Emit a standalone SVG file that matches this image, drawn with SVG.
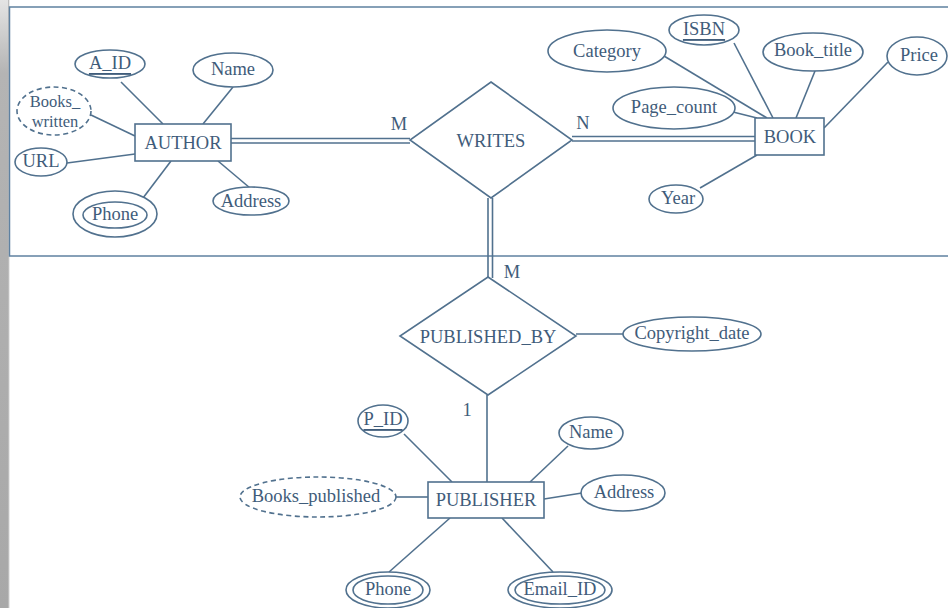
<svg xmlns="http://www.w3.org/2000/svg" width="948" height="608" viewBox="0 0 948 608">
<defs>
<linearGradient id="band" x1="0" y1="0" x2="0" y2="1">
<stop offset="0" stop-color="#e4e4e4"/>
<stop offset="0.12" stop-color="#b4b4b4"/>
<stop offset="1" stop-color="#a8a8a8"/>
</linearGradient>
<linearGradient id="bandEdge" x1="0" y1="0" x2="1" y2="0">
<stop offset="0" stop-color="#a8a8a8"/>
<stop offset="1" stop-color="#ffffff"/>
</linearGradient>
</defs>
<style>
.ln{stroke:#51718e;stroke-width:1.6;fill:none}
.sh{stroke:#51718e;stroke-width:1.6;fill:#fff}
.dash{stroke:#51718e;stroke-width:1.6;fill:#fff;stroke-dasharray:5 3.5}
.t{font-family:"Liberation Serif","Times New Roman",serif;font-size:18.5px;fill:#3f5c7a;text-anchor:middle;dominant-baseline:central}
.s{font-size:16.5px}
.u{text-decoration:underline}
</style>
<rect x="0" y="0" width="948" height="608" fill="#ffffff"/>
<rect x="0" y="0" width="8" height="608" fill="url(#band)"/>
<rect x="8" y="0" width="2" height="608" fill="url(#bandEdge)"/>
<rect x="9.5" y="7" width="950" height="249" fill="#ffffff" stroke="#5f81a0" stroke-width="1.5"/>

<g id="connectors">
<!-- AUTHOR attributes -->
<line class="ln" x1="121" y1="82" x2="163" y2="124"/>
<line class="ln" x1="233" y1="87" x2="203" y2="124"/>
<line class="ln" x1="91" y1="115" x2="135" y2="136"/>
<line class="ln" x1="67" y1="163" x2="135" y2="154"/>
<line class="ln" x1="143" y1="198" x2="171" y2="161"/>
<line class="ln" x1="250" y1="188" x2="218" y2="161"/>
<!-- AUTHOR - WRITES double -->
<line class="ln" x1="231" y1="138.5" x2="410" y2="138.5"/>
<line class="ln" x1="231" y1="143" x2="410" y2="143"/>
<!-- WRITES - BOOK double -->
<line class="ln" x1="572" y1="136.5" x2="755" y2="136.5"/>
<line class="ln" x1="572" y1="141" x2="755" y2="141"/>
<!-- BOOK attributes -->
<line class="ln" x1="664" y1="56" x2="767" y2="118"/>
<line class="ln" x1="734" y1="43" x2="773" y2="118"/>
<line class="ln" x1="815" y1="71" x2="796" y2="118"/>
<line class="ln" x1="888" y1="62" x2="824" y2="128"/>
<line class="ln" x1="733" y1="112" x2="757" y2="118"/>
<line class="ln" x1="700" y1="188" x2="757" y2="155"/>
<!-- WRITES - PUBLISHED_BY double -->
<line class="ln" x1="488" y1="198" x2="488" y2="278"/>
<line class="ln" x1="492.5" y1="198" x2="492.5" y2="278"/>
<!-- PUBLISHED_BY - Copyright_date -->
<line class="ln" x1="576" y1="334" x2="623" y2="334"/>
<!-- PUBLISHED_BY - PUBLISHER -->
<line class="ln" x1="487" y1="395" x2="487" y2="482"/>
<!-- PUBLISHER attributes -->
<line class="ln" x1="404" y1="434" x2="452" y2="482"/>
<line class="ln" x1="568" y1="446" x2="530" y2="482"/>
<line class="ln" x1="544" y1="499" x2="582" y2="493"/>
<line class="ln" x1="396" y1="497" x2="428" y2="497"/>
<line class="ln" x1="450" y1="518" x2="389" y2="572"/>
<line class="ln" x1="502" y1="518" x2="553" y2="572"/>
</g>

<g id="author">
<rect class="sh" x="135" y="124" width="96" height="37"/>
<text class="t" x="183" y="143">AUTHOR</text>
</g>
<g id="author-a_id">
<ellipse class="sh" cx="110" cy="64" rx="35" ry="14"/>
<text class="t u" x="110" y="63">A_ID</text>
</g>
<g id="author-name">
<ellipse class="sh" cx="233" cy="70" rx="40" ry="17"/>
<text class="t" x="233" y="69">Name</text>
</g>
<g id="author-books_written">
<ellipse class="dash" cx="54" cy="111" rx="37" ry="24"/>
<text class="t s" x="55" y="101">Books_</text>
<text class="t s" x="55" y="121">written</text>
</g>
<g id="author-url">
<ellipse class="sh" cx="41" cy="162" rx="26" ry="14"/>
<text class="t" x="41" y="161">URL</text>
</g>
<g id="author-phone">
<ellipse class="sh" cx="115" cy="214" rx="42" ry="23"/>
<ellipse class="sh" cx="115" cy="215" rx="32" ry="13"/>
<text class="t" x="115" y="214">Phone</text>
</g>
<g id="author-address">
<ellipse class="sh" cx="251" cy="201" rx="38" ry="14"/>
<text class="t" x="251" y="201">Address</text>
</g>

<g id="writes">
<polygon class="sh" points="491,82 572,140 491,198 410,140"/>
<text class="t" x="491" y="141">WRITES</text>
<text class="t" x="399" y="124">M</text>
<text class="t" x="583" y="123">N</text>
</g>

<g id="book">
<rect class="sh" x="755" y="118" width="69" height="37"/>
<text class="t" x="790" y="137">BOOK</text>
</g>
<g id="book-category">
<ellipse class="sh" cx="607" cy="51" rx="59" ry="21"/>
<text class="t" x="607" y="51">Category</text>
</g>
<g id="book-isbn">
<ellipse class="sh" cx="704" cy="30" rx="35" ry="15"/>
<text class="t u" x="704" y="29">ISBN</text>
</g>
<g id="book-book_title">
<ellipse class="sh" cx="813" cy="52" rx="50" ry="19"/>
<text class="t" x="813" y="50">Book_title</text>
</g>
<g id="book-price">
<ellipse class="sh" cx="917" cy="56" rx="30" ry="19"/>
<text class="t" x="919" y="55">Price</text>
</g>
<g id="book-page_count">
<ellipse class="sh" cx="674" cy="108" rx="61" ry="21"/>
<text class="t" x="674" y="107">Page_count</text>
</g>
<g id="book-year">
<ellipse class="sh" cx="676" cy="199" rx="27" ry="14"/>
<text class="t" x="678" y="198">Year</text>
</g>

<g id="published_by">
<polygon class="sh" points="488,277 576,336 488,395 400,336"/>
<text class="t" x="488" y="337">PUBLISHED_BY</text>
<text class="t" x="512" y="272">M</text>
<text class="t" x="467" y="410">1</text>
</g>
<g id="published_by-copyright_date">
<ellipse class="sh" cx="692" cy="334" rx="69" ry="17"/>
<text class="t" x="692" y="333">Copyright_date</text>
</g>

<g id="publisher">
<rect class="sh" x="428" y="482" width="116" height="36"/>
<text class="t" x="486" y="500">PUBLISHER</text>
</g>
<g id="publisher-p_id">
<ellipse class="sh" cx="383" cy="421" rx="25" ry="16"/>
<text class="t u" x="383" y="419">P_ID</text>
</g>
<g id="publisher-name">
<ellipse class="sh" cx="591" cy="433" rx="32" ry="16"/>
<text class="t" x="591" y="432">Name</text>
</g>
<g id="publisher-address">
<ellipse class="sh" cx="623" cy="493" rx="42" ry="18"/>
<text class="t" x="624" y="492">Address</text>
</g>
<g id="publisher-books_published">
<ellipse class="dash" cx="318" cy="497" rx="78" ry="20"/>
<text class="t" x="316" y="496">Books_published</text>
</g>
<g id="publisher-phone">
<ellipse class="sh" cx="388" cy="590" rx="42" ry="18"/>
<ellipse class="sh" cx="388" cy="590" rx="35" ry="14"/>
<text class="t" x="388" y="589">Phone</text>
</g>
<g id="publisher-email_id">
<ellipse class="sh" cx="560" cy="590" rx="52" ry="18"/>
<ellipse class="sh" cx="560" cy="590" rx="45" ry="14"/>
<text class="t" x="560" y="589">Email_ID</text>
</g>
</svg>
